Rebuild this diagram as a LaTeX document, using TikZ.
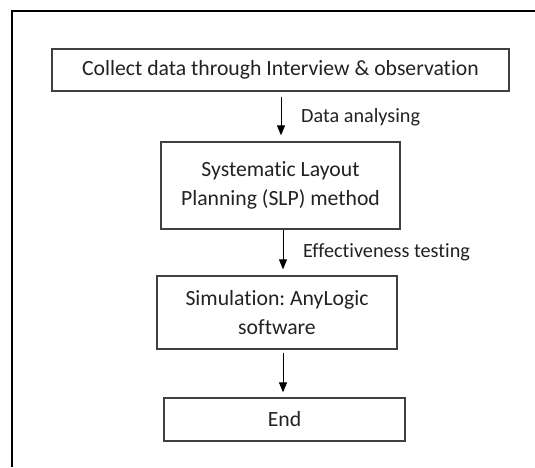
\documentclass[tikz,border=0pt]{standalone}
\usepackage{fontspec}
\setmainfont{Carlito}[Ligatures=NoCommon]
\usetikzlibrary{arrows.meta,calc}
\definecolor{boxline}{HTML}{404040}
\definecolor{txt}{HTML}{222222}
\tikzset{
  stepbox/.style={draw=boxline, line width=1.3pt, fill=white, align=center, text=txt,
    font=\fontsize{21.7}{29.5}\selectfont, inner sep=0pt},
  arr/.style={-{Triangle[width=8pt,length=10pt]}, line width=1pt, black},
  lbl/.style={anchor=west, text=txt, font=\fontsize{20.2}{24}\selectfont, inner sep=0pt},
}
\frenchspacing
\begin{document}
\begin{tikzpicture}[x=1pt,y=1pt]
\useasboundingbox (0,0) rectangle (535,-467);
\fill[white] (0,0) rectangle (535,-467);
\draw[line width=2pt, black] (12,-467) -- (12,-11) -- (535,-11);
\node[stepbox, minimum width=457pt, minimum height=42pt] (b1) at (280.5,-70) {Collect data through Interview \& observation};
\node[stepbox, minimum width=239pt, minimum height=87pt] (b2) at (280.5,-185.5) {Systematic Layout\\Planning (SLP) method};
\node[stepbox, minimum width=240pt, minimum height=73pt] (b3) at (277,-312.5) {Simulation: AnyLogic\\software};
\node[stepbox, minimum width=241pt, minimum height=43pt] (b4) at (284.5,-419.5) {End};
\coordinate (ax1) at (281,0);
\coordinate (ax2) at (283,0);
\draw[arr] ($(b1.south -| ax1)+(0,-5)$) -- ($(b2.north -| ax1)+(0,6)$);
\draw[arr] ($(b2.south -| ax2)+(0,0)$) -- ($(b3.north -| ax2)+(0,6)$);
\draw[arr] ($(b3.south -| ax2)+(0,-3)$) -- ($(b4.north -| ax2)+(0,5)$);
\node[lbl] (l1) at (301,-117) {Data analysing};
\node[lbl] (l2) at (303,-252) {Effectiveness testing};
\end{tikzpicture}
\end{document}
